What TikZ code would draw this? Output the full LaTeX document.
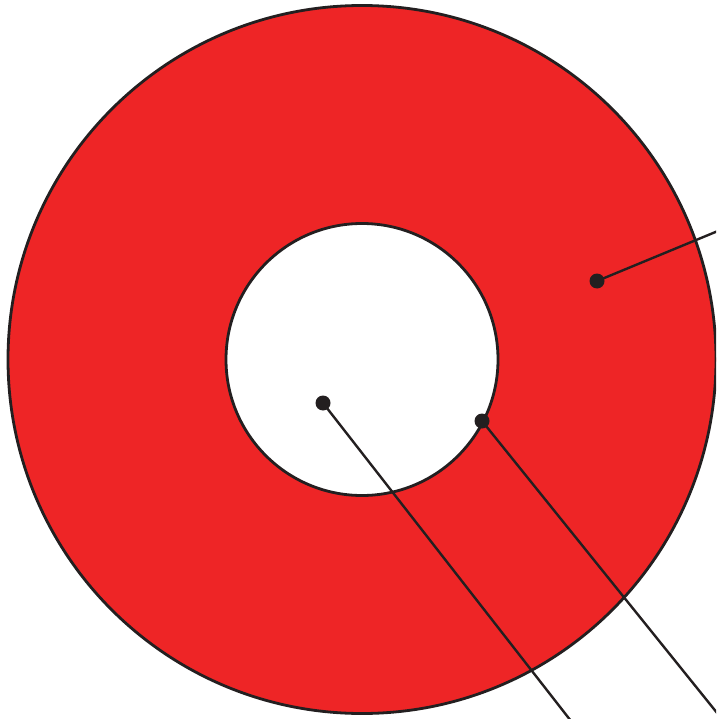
\documentclass[tikz,border=0pt]{standalone}
\usepackage{xcolor}
\usepackage{tikz}
\definecolor{RingRed}{HTML}{EE2526}
\definecolor{InkDark}{HTML}{231F20}

\begin{document}
\begin{tikzpicture}[
  x=1pt, y=-1pt,
  ring/.style={draw=InkDark,line width=2.8pt},
  dot/.style={circle,fill=InkDark,inner sep=0pt,minimum size=15pt},
  leader/.style={draw=InkDark,line width=2.4pt}
]
  \useasboundingbox (0,0) rectangle (716,719);
  \clip (0,0) rectangle (716,719);

  \coordinate (centre) at (362,359.5);

  % ring with its hole
  \fill[RingRed,even odd rule] (centre) circle (354pt) (centre) circle (136pt);
  \draw[ring] (centre) circle (354pt);
  \draw[ring] (centre) circle (136pt);

  % points and leaders
  \node[dot] (body) at (597,281) {};
  \node[dot] (hole) at (323,403) {};
  \node[dot] (edge) at (482,421) {};

  \coordinate (bodyEnd) at (730,226);
  \coordinate (holeEnd) at (578,730);
  \coordinate (edgeEnd) at (730,729);

  \draw[leader] (body.center) -- (bodyEnd);
  \draw[leader] (hole.center) -- (holeEnd);
  \draw[leader] (edge.center) -- (edgeEnd);
\end{tikzpicture}
\end{document}
